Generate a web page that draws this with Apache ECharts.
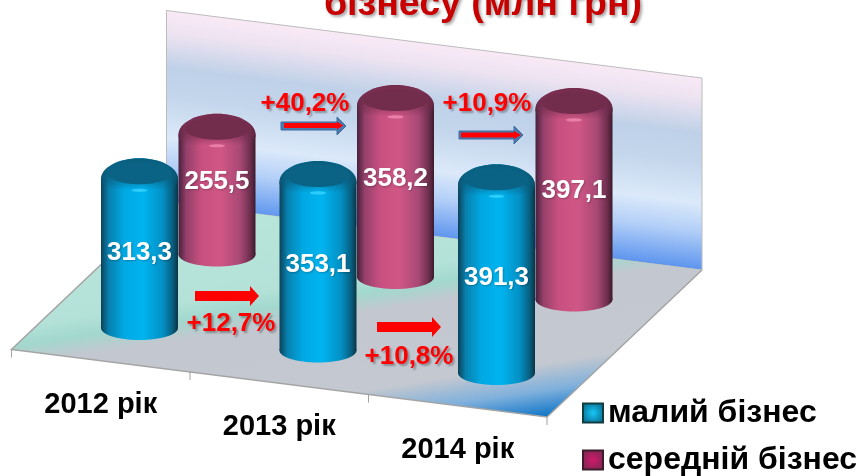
<!DOCTYPE html>
<html>
<head>
<meta charset="utf-8">
<style>html,body{margin:0;padding:0;background:#fff}#main{width:864px;height:476px}</style>
<script src="https://cdn.jsdelivr.net/npm/echarts@6/dist/echarts.min.js"></script>
</head>
<body>
<div id="main"></div>
<script>
// данні діаграми
const years = ['2012 рік', '2013 рік', '2014 рік'];
const smallBiz = [313.3, 353.1, 391.3];
const mediumBiz = [255.5, 358.2, 397.1];
const smallGrowth = ['+12,7%', '+10,8%'];
const mediumGrowth = ['+40,2%', '+10,9%'];
const smallName = 'малий бізнес';
const mediumName = 'середній бізнес';

const FONT = '"Liberation Sans", Arial, sans-serif';

// косокутна проекція: рік зсуває вправо-вниз, глибина вправо-вгору
const DEPTH_X = 0.4342;
const CAT_DROP = -45;
const DEPTH_RISE = 147;
const FLOOR_LEVEL = 8;
function project(api, cat, depth, value) {
  return api.coord([cat + depth * DEPTH_X, value + cat * CAT_DROP + depth * DEPTH_RISE]);
}

function hGrad(stops) {
  return {
    type: 'linear', x: 0, y: 0, x2: 1, y2: 0,
    colorStops: stops.map(s => ({ offset: s[0], color: s[1] }))
  };
}
function vGrad(stops) {
  return {
    type: 'linear', x: 0, y: 0, x2: 0, y2: 1,
    colorStops: stops.map(s => ({ offset: s[0], color: s[1] }))
  };
}

const smallLook = {
  body: hGrad([[0, '#0b4258'], [0.1, '#0880ae'], [0.3, '#00a8e2'], [0.55, '#00b4f0'], [0.8, '#0390c4'], [0.93, '#075f80'], [1, '#0a3444']]),
  roof: vGrad([[0, 'rgba(10,92,124,1)'], [0.45, 'rgba(10,92,124,0.7)'], [0.75, 'rgba(10,92,124,0)'], [1, 'rgba(10,92,124,0)']]),
  cap: '#0a6384',
  shine: '#38d4ff',
  labelShift: 3
};
const mediumLook = {
  body: hGrad([[0, '#47203a'], [0.1, '#94406a'], [0.3, '#c85080'], [0.55, '#d05785'], [0.8, '#a84875'], [0.93, '#6d2f4e'], [1, '#3c1a2c']]),
  roof: vGrad([[0, 'rgba(114,44,76,1)'], [0.45, 'rgba(114,44,76,0.7)'], [0.75, 'rgba(114,44,76,0)'], [1, 'rgba(114,44,76,0)']]),
  cap: '#722c4c',
  shine: '#f08ab0',
  labelShift: -9
};

// циліндр одного значення
function cylinder(depth, look) {
  return function (params, api) {
    const cat = api.value(0);
    const val = api.value(1);
    const base = project(api, cat, depth, 0);
    const top = project(api, cat, depth, val);
    const rx = 38.5;
    const mid = (base[1] + top[1]) / 2 + look.labelShift;
    return {
      type: 'group',
      children: [
        { type: 'ellipse', shape: { cx: base[0], cy: base[1], rx: rx, ry: 12 }, style: { fill: look.body } },
        { type: 'rect', shape: { x: base[0] - rx, y: top[1] + 8, width: rx * 2, height: base[1] - top[1] - 8 }, style: { fill: look.body } },
        { type: 'ellipse', shape: { cx: top[0], cy: top[1] + 8, rx: rx, ry: 21 }, style: { fill: look.body } },
        { type: 'ellipse', shape: { cx: top[0], cy: top[1] + 8, rx: rx, ry: 21 }, style: { fill: look.roof } },
        { type: 'ellipse', shape: { cx: top[0], cy: top[1] + 2, rx: 32, ry: 11 }, style: { fill: look.cap } },
        { type: 'ellipse', shape: { cx: top[0], cy: top[1] + 19, rx: 8, ry: 1.6 }, style: { fill: look.shine, opacity: 0.8 } },
        {
          type: 'text',
          style: {
            text: String(val).replace('.', ','), x: base[0], y: mid,
            fill: '#fff', font: 'bold 26px ' + FONT, align: 'center', verticalAlign: 'middle',
            textShadowColor: 'rgba(0,0,0,0.25)', textShadowBlur: 2, textShadowOffsetX: 1, textShadowOffsetY: 1
          }
        }
      ]
    };
  };
}

// стінка, підлога, засічки
function renderStage(params, api) {
  const p = (c, d, v) => project(api, c, d, v === undefined ? FLOOR_LEVEL : v);
  const WALL = 392;
  const wallPts = [p(-0.5, 1.5, WALL), p(2.5, 1.5, WALL), p(2.5, 1.5), p(-0.5, 1.5)];
  const floorPts = [p(-0.5, 1.5), p(2.5, 1.5), p(2.5, -0.5), p(-0.5, -0.5)];
  const ticks = [-0.5, 0.5, 1.5, 2.5].map(c => {
    const a = p(c, -0.5);
    return {
      type: 'line', shape: { x1: a[0], y1: a[1], x2: a[0], y2: a[1] + 8 },
      style: { stroke: '#a0a0a0', lineWidth: 1 }
    };
  });
  return {
    type: 'group',
    children: [
      {
        type: 'polygon', shape: { points: wallPts },
        style: {
          stroke: '#bcbcbc', lineWidth: 1,
          fill: {
            type: 'linear', global: true, x: 435, y: 42, x2: 411.4, y2: 234,
            colorStops: [
              { offset: 0, color: '#fbeaf8' }, { offset: 0.12, color: '#eee3f1' },
              { offset: 0.3, color: '#bfd1e8' }, { offset: 0.45, color: '#c4d6ec' },
              { offset: 0.66, color: '#dbe9fa' }, { offset: 0.8, color: '#b4d0f8' },
              { offset: 1, color: '#5d95ee' }
            ]
          }
        }
      },
      {
        type: 'polygon', shape: { points: floorPts },
        style: {
          fill: {
            type: 'linear', global: true, x: 167, y: 204, x2: 206.6, y2: 468,
            colorStops: [
              { offset: 0, color: '#b8e6da' }, { offset: 0.37, color: '#b4e2d8' },
              { offset: 0.44, color: '#a2d8ce' }, { offset: 0.51, color: '#c3c7cf' },
              { offset: 0.8, color: '#c4c8d0' }, { offset: 0.9, color: '#7fb0dc' },
              { offset: 1, color: '#0d74c8' }
            ]
          }
        }
      },
      {
        type: 'polyline', shape: { points: [p(2.5, 1.5), p(2.5, -0.5), p(-0.5, -0.5), p(-0.5, 1.5)] },
        style: { stroke: '#a4a4a4', lineWidth: 1.5, fill: 'none' }
      },
      ...ticks
    ]
  };
}

function renderYear(params, api) {
  const pos = project(api, api.value(0), -0.5, -80);
  return {
    type: 'text',
    style: {
      text: years[api.value(0)], x: pos[0], y: pos[1],
      fill: '#000', font: 'bold 29px ' + FONT, align: 'center', verticalAlign: 'middle'
    }
  };
}

// стрілки приросту
function arrow(x1, x2, head, y, half, headHalf, fill, stroke) {
  return {
    type: 'polygon', z: 100,
    shape: { points: [[x1, y - half], [head, y - half], [head, y - headHalf], [x2, y], [head, y + headHalf], [head, y + half], [x1, y + half]] },
    style: { fill: fill, stroke: stroke || 'none', lineWidth: 1 }
  };
}
function growthText(text, x, y) {
  return {
    type: 'text', x: x, y: y, z: 100,
    style: {
      text: text, fill: '#ff0000', font: 'bold 26px ' + FONT, align: 'center', verticalAlign: 'middle',
      textShadowColor: 'rgba(0,0,0,0.3)', textShadowBlur: 2, textShadowOffsetX: 2, textShadowOffsetY: 2
    }
  };
}

const myChart = echarts.init(document.getElementById('main'));

myChart.setOption({
  animation: false,
  title: {
    text: 'бізнесу (млн грн)',
    left: 478, textAlign: 'center', top: -19,
    textStyle: {
      fontFamily: FONT, fontSize: 37.5, fontWeight: 'bold', color: '#c80000',
      textShadowColor: 'rgba(0,0,0,0.35)', textShadowBlur: 3, textShadowOffsetX: 2, textShadowOffsetY: 2
    }
  },
  grid: { left: 0, right: 0, top: 0, bottom: 0 },
  xAxis: { type: 'value', min: -0.78151, max: 4.05882, show: false },
  yAxis: { type: 'value', min: -296, max: 656, show: false },
  legend: {
    orient: 'vertical', left: 582, top: 397, padding: 0,
    itemWidth: 20, itemHeight: 19, itemGap: 15,
    data: [
      {
        name: smallName, icon: 'rect',
        itemStyle: {
          color: { type: 'radial', x: 0.5, y: 0.5, r: 0.6, colorStops: [{ offset: 0, color: '#18c8f8' }, { offset: 1, color: '#086a8c' }] },
          borderColor: '#123c40', borderWidth: 2
        }
      },
      {
        name: mediumName, icon: 'rect',
        itemStyle: {
          color: { type: 'radial', x: 0.5, y: 0.5, r: 0.6, colorStops: [{ offset: 0, color: '#d0186c' }, { offset: 1, color: '#7a2a50' }] },
          borderColor: '#3c1c2c', borderWidth: 2
        }
      }
    ],
    textStyle: { fontFamily: FONT, fontSize: 32, lineHeight: 28, fontWeight: 'bold', color: '#000' }
  },
  graphic: {
    elements: [
      arrow(281, 346, 337, 126, 4, 9, '#4a7ab0', '#3f6c9e'),
      arrow(284, 343, 337, 125.5, 2.5, 4, '#ff0000'),
      arrow(459, 523, 514, 135, 4, 9, '#4a7ab0', '#3f6c9e'),
      arrow(461, 521, 514, 135, 2.5, 4, '#ff0000'),
      arrow(195, 259, 250, 296, 5, 10, '#ff0000'),
      arrow(377, 441, 432, 327, 5, 10, '#ff0000'),
      growthText(smallGrowth[0], 231, 324),
      growthText(smallGrowth[1], 409, 357),
      growthText(mediumGrowth[0], 305, 104),
      growthText(mediumGrowth[1], 487, 104)
    ]
  },
  series: [
    { type: 'custom', name: 'stage', silent: true, data: [[0, 0]], renderItem: renderStage, clip: false },
    { type: 'custom', name: mediumName, silent: true, data: mediumBiz.map((v, i) => [i, v]), renderItem: cylinder(1, mediumLook), encode: { x: 0, y: 1 } },
    { type: 'custom', name: smallName, silent: true, data: smallBiz.map((v, i) => [i, v]), renderItem: cylinder(0, smallLook), encode: { x: 0, y: 1 } },
    { type: 'custom', name: 'years', silent: true, data: years.map((y, i) => [i, 0]), renderItem: renderYear, clip: false }
  ]
});
</script>
</body>
</html>
